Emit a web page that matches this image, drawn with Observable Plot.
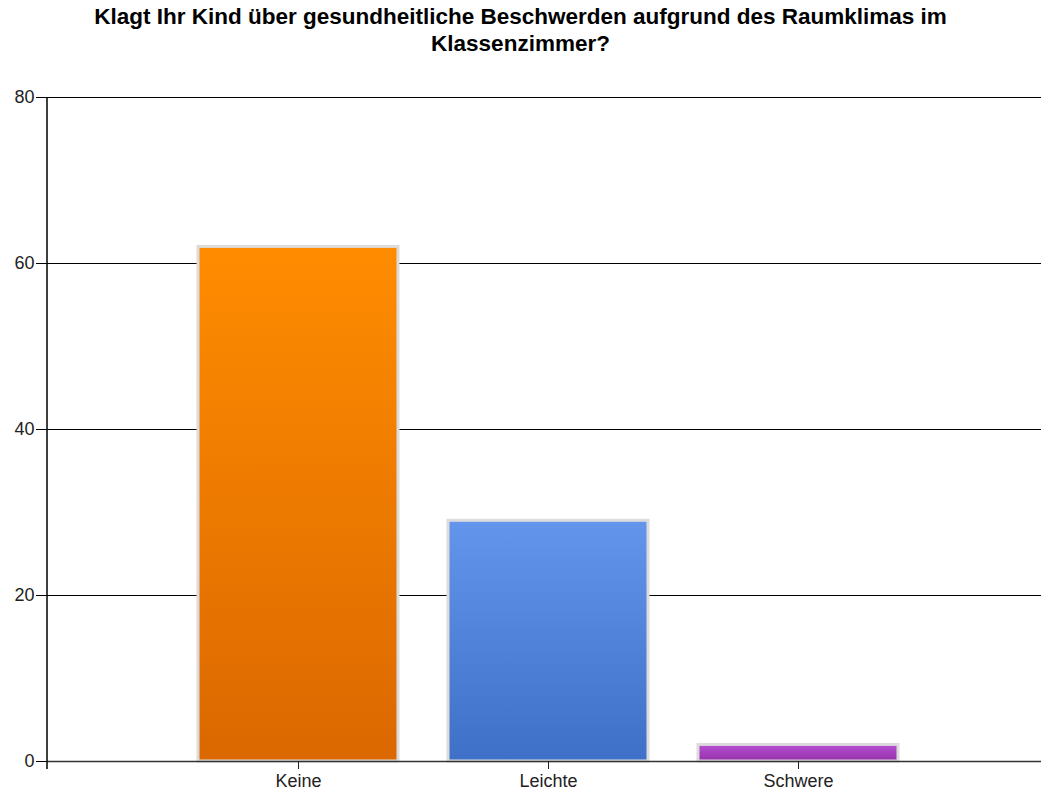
<!DOCTYPE html>
<html>
<head>
<meta charset="utf-8">
<script src="https://cdn.jsdelivr.net/npm/d3@7"></script>
<script src="https://cdn.jsdelivr.net/npm/@observablehq/plot@0.6"></script>
<style>
  body { margin: 0; background: #fff; }
  #title { height: 75px; box-sizing: border-box; padding-top: 3px; text-align: center;
    font: bold 22.5px "Liberation Sans", Arial, sans-serif; line-height: 27px; color: #000; width: 1041px; }
</style>
</head>
<body>
<div id="title">Klagt Ihr Kind über gesundheitliche Beschwerden aufgrund des Raumklimas im<br>Klassenzimmer?</div>
<div id="chart"></div>
<script>
const categories = ["Keine", "Leichte", "Schwere"];
const values = [62, 29, 2];
const yTicks = [0, 20, 40, 60, 80];
const gradTop = ["#ff8c00", "#6495ed", "#b850d2"];
const gradBottom = ["#db6800", "#3e70c8", "#9530aa"];

const data = categories.map((c, i) => ({category: c, value: values[i], fill: `url(#grad${i})`}));

const defsMark = () => {
  const svg = d3.create("svg:g");
  const defs = svg.append("defs");
  categories.forEach((c, i) => {
    const g = defs.append("linearGradient").attr("id", `grad${i}`)
      .attr("x1", 0).attr("y1", 0).attr("x2", 0).attr("y2", 1);
    g.append("stop").attr("offset", "0%").attr("stop-color", gradTop[i]);
    g.append("stop").attr("offset", "100%").attr("stop-color", gradBottom[i]);
  });
  return svg.node();
};

const axisLineMark = (index, scales, values, dimensions) => {
  const y = scales.y;
  const x0 = dimensions.marginLeft;
  return d3.create("svg:line")
    .attr("x1", x0).attr("x2", x0)
    .attr("y1", y(80)).attr("y2", y(0) + 8)
    .attr("stroke", "#000").attr("stroke-width", 1.5)
    .node();
};

const chart = Plot.plot({
  width: 1041,
  height: 719,
  marginTop: 22,
  marginBottom: 33,
  marginLeft: 47,
  marginRight: -7,
  style: {fontFamily: "'Liberation Sans', Arial, sans-serif", fontSize: "18px", color: "#222", background: "#fff", overflow: "hidden"},
  x: {domain: categories, paddingInner: 0.2, paddingOuter: 0.6, label: null},
  y: {domain: [0, 80], label: null},
  color: {type: "identity"},
  marks: [
    defsMark,
    Plot.ruleY(yTicks.filter(d => d > 0), {stroke: "#000", strokeWidth: 1.2, strokeOpacity: 1}),
    Plot.barY(data, {x: "category", y: "value", fill: "fill", stroke: "#dcdcdc", strokeWidth: 3, inset: 0}),
    Plot.ruleY([0], {stroke: "#333", strokeWidth: 1.5}),
    axisLineMark,
    Plot.axisY({ticks: yTicks, tickSize: 11, tickPadding: 2, label: null, stroke: "#000", fontSize: 18}),
    Plot.axisX({tickSize: 8, tickPadding: 5, label: null, stroke: "#222", fontSize: 18})
  ]
});
document.getElementById("chart").appendChild(chart);
</script>
</body>
</html>
